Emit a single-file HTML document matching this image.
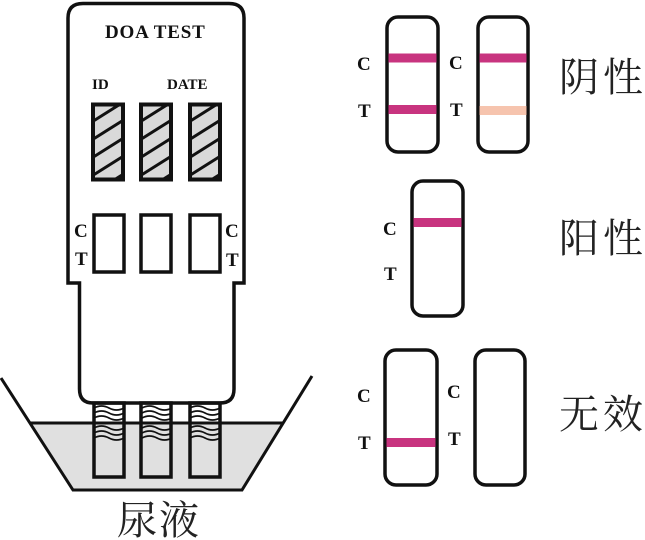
<!DOCTYPE html>
<html><head><meta charset="utf-8"><style>
html,body{margin:0;padding:0;background:#fff;}
svg{display:block;}
.lb{font-family:"Liberation Serif",serif;font-weight:bold;fill:#111;}
.cj{font-family:"Liberation Serif","Noto Serif CJK SC",serif;fill:#222;}
</style></head><body>
<svg width="645" height="540" viewBox="0 0 645 540" xmlns="http://www.w3.org/2000/svg">
<defs>
<clipPath id="h1"><rect x="93" y="104.5" width="30" height="75"/></clipPath>
<clipPath id="h2"><rect x="141" y="104.5" width="30" height="75"/></clipPath>
<clipPath id="h3"><rect x="190" y="104.5" width="30" height="75"/></clipPath>
<g id="stripes" stroke="#111" stroke-width="3">
<line x1="-5" y1="106.4" x2="45" y2="74.9"/>
<line x1="-5" y1="124.4" x2="45" y2="92.9"/>
<line x1="-5" y1="142.4" x2="45" y2="110.9"/>
<line x1="-5" y1="160.4" x2="45" y2="128.9"/>
<line x1="-5" y1="178.4" x2="45" y2="146.9"/>
<line x1="-5" y1="196.4" x2="45" y2="164.9"/>
<line x1="-5" y1="214.4" x2="45" y2="182.9"/>
</g>
<g id="waves" fill="none" stroke="#111" stroke-width="1.8">
<path d="M0,408 q7.5,-4 15,0 t15,0"/>
<path d="M0,413 q7.5,-4 15,0 t15,0"/>
<path d="M0,418 q7.5,-4 15,0 t15,0"/>
<path d="M0,428 q7.5,-4 15,0 t15,0"/>
<path d="M0,433 q7.5,-4 15,0 t15,0"/>
<path d="M0,438 q7.5,-4 15,0 t15,0"/>
</g>
</defs>

<!-- liquid -->
<polygon points="29,423 283,423 242,490 73,490" fill="#e0e0e0"/>

<!-- card -->
<path d="M68,283 L68,18 Q68,3.5 83,3.5 L229,3.5 Q244,3.5 244,18 L244,283 L234,283 L234,389 Q234,403 220,403 L93,403 Q79.5,403 79.5,389 L79.5,283 Z" fill="#fff" stroke="#111" stroke-width="3.5" stroke-linejoin="miter"/>

<!-- waves in strips -->
<use href="#waves" x="94"/>
<use href="#waves" x="142"/>
<use href="#waves" x="190"/>

<!-- strips -->
<g fill="none" stroke="#111" stroke-width="3.5">
<rect x="94" y="403" width="30" height="74"/>
<rect x="141" y="403" width="30" height="74"/>
<rect x="190" y="403" width="30" height="74"/>
</g>

<!-- cup -->
<g stroke="#111" stroke-width="3" fill="none">
<polyline points="1,378 73,490 242,490 312,376"/>
<line x1="29" y1="423" x2="283" y2="423"/>
</g>

<!-- DOA TEST text -->
<text x="105" y="38" class="lb" font-size="19" letter-spacing="0.8">DOA TEST</text>
<text x="92" y="89" class="lb" font-size="15">ID</text>
<text x="167" y="89" class="lb" font-size="15">DATE</text>

<!-- hatched boxes -->
<rect x="93" y="104.5" width="30" height="75" fill="#d9d9d9"/>
<rect x="141" y="104.5" width="30" height="75" fill="#d9d9d9"/>
<rect x="190" y="104.5" width="30" height="75" fill="#d9d9d9"/>
<g clip-path="url(#h1)"><use href="#stripes" x="93"/></g>
<g clip-path="url(#h2)"><use href="#stripes" x="141"/></g>
<g clip-path="url(#h3)"><use href="#stripes" x="190"/></g>
<g fill="none" stroke="#111" stroke-width="4">
<rect x="93" y="104.5" width="30" height="75"/>
<rect x="141" y="104.5" width="30" height="75"/>
<rect x="190" y="104.5" width="30" height="75"/>
</g>

<!-- CT windows -->
<g fill="none" stroke="#111" stroke-width="3.5">
<rect x="94" y="215" width="30" height="57"/>
<rect x="141" y="215" width="30" height="57"/>
<rect x="190" y="215" width="30" height="57"/>
</g>
<text x="74" y="237" class="lb" font-size="19">C</text>
<text x="75" y="265" class="lb" font-size="19">T</text>
<text x="225" y="237" class="lb" font-size="19">C</text>
<text x="226" y="266" class="lb" font-size="19">T</text>

<text x="117" y="534" class="cj" font-size="40" letter-spacing="2">尿液</text>

<!-- negative -->
<g fill="none" stroke="#111" stroke-width="3.5">
<rect x="387" y="17" width="51" height="135" rx="11"/>
<rect x="478" y="17" width="50" height="135" rx="11"/>
</g>
<rect x="388.5" y="53.5" width="48" height="9" fill="#c8347f"/>
<rect x="388.5" y="105" width="48" height="9" fill="#c8347f"/>
<rect x="479.5" y="53.5" width="47" height="9" fill="#c8347f"/>
<rect x="479.5" y="106" width="47" height="9" fill="#f6c4ae"/>
<text x="357" y="70" class="lb" font-size="19">C</text>
<text x="358" y="117" class="lb" font-size="19">T</text>
<text x="449" y="69" class="lb" font-size="19">C</text>
<text x="450" y="116" class="lb" font-size="19">T</text>
<text x="559" y="91" class="cj" font-size="40" letter-spacing="4">阴性</text>

<!-- positive -->
<rect x="412" y="181" width="51" height="135" rx="11" fill="none" stroke="#111" stroke-width="3.5"/>
<rect x="413.5" y="218" width="48" height="9" fill="#c8347f"/>
<text x="383" y="235" class="lb" font-size="19">C</text>
<text x="384" y="280" class="lb" font-size="19">T</text>
<text x="559" y="252" class="cj" font-size="40" letter-spacing="4">阳性</text>

<!-- invalid -->
<g fill="none" stroke="#111" stroke-width="3.5">
<rect x="385" y="350" width="52" height="135" rx="11"/>
<rect x="475" y="350" width="50" height="135" rx="11"/>
</g>
<rect x="386.5" y="438" width="49" height="9" fill="#c8347f"/>
<text x="357" y="402" class="lb" font-size="19">C</text>
<text x="358" y="449" class="lb" font-size="19">T</text>
<text x="447" y="398" class="lb" font-size="19">C</text>
<text x="448" y="445" class="lb" font-size="19">T</text>
<text x="559" y="428" class="cj" font-size="40" letter-spacing="4">无效</text>
</svg>
</body></html>
